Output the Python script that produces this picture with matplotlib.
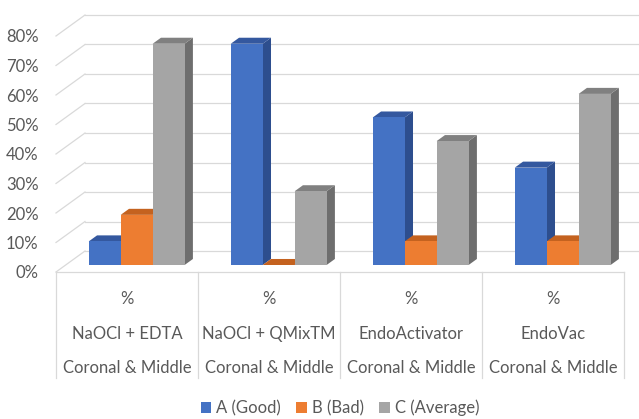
import matplotlib
matplotlib.use("Agg")
import matplotlib.pyplot as plt
from matplotlib.patches import Polygon
from matplotlib.ticker import FuncFormatter

categories = ["%\nNaOCl + EDTA\nCoronal & Middle",
              "%\nNaOCl + QMixTM\nCoronal & Middle",
              "%\nEndoActivator\nCoronal & Middle",
              "%\nEndoVac\nCoronal & Middle"]
series_names = ["A (Good)", "B (Bad)", "C (Average)"]
good = [8, 75, 50, 33]
bad = [17, 0, 8, 8]
average = [75, 25, 42, 58]
yticks = [0, 10, 20, 30, 40, 50, 60, 70, 80]

front_cols = ["#4472C4", "#ED7D31", "#A5A5A5"]
side_cols = ["#2D4E8E", "#B5581C", "#6E6E6E"]
top_cols = ["#34589F", "#C4621F", "#808080"]
txt = "#595959"
grid = "#D9D9D9"

plt.rcParams['font.family'] = ['Lato', 'DejaVu Sans']

W, H = 639, 419
fig = plt.figure(figsize=(W / 100, H / 100), dpi=100)
# front plane: x 56..624 px, y 0% at 272 px, 80% at 36 px (from top)
ax = fig.add_axes([56 / W, (H - 272) / H, 568 / W, 236 / H])
ax.set_xlim(0, 4)
ax.set_ylim(0, 80)
ax.patch.set_visible(False)
for s in ax.spines.values():
    s.set_visible(False)

# depth vector of the floor (data units)
DX = 29 / 142.0
DY = 21 / 2.95

# back wall + side wall gridlines
for v in yticks:
    ax.plot([DX, 4 + DX + 0.2], [v + DY, v + DY], color=grid, lw=0.9, clip_on=False, zorder=0)
    ax.plot([0, DX], [v, v + DY], color=grid, lw=0.9, clip_on=False, zorder=0)
# floor front edge
ax.plot([0, 4], [0, 0], color=grid, lw=0.9, clip_on=False, zorder=0)
# table vertical lines
for i in range(5):
    ax.plot([i, i], [0, -106 / 2.95], color=grid, lw=0.9, clip_on=False, zorder=0)

# bars
w = 0.225
d1, d2 = 1 / 3, 0.62
ox, oy = d1 * DX, d1 * DY
ddx, ddy = (d2 - d1) * DX, (d2 - d1) * DY
data = [good, bad, average]
z = 2
for i in range(len(categories)):
    for j, vals in enumerate(data):
        v = vals[i]
        xl = i + 0.5 + (j - 1.5) * w + ox
        xr = xl + w
        b = oy
        side = Polygon([(xr, b), (xr, b + v), (xr + ddx, b + v + ddy), (xr + ddx, b + ddy)],
                       closed=True, facecolor=side_cols[j], edgecolor='none', zorder=z, clip_on=False)
        top = Polygon([(xl, b + v), (xr, b + v), (xr + ddx, b + v + ddy), (xl + ddx, b + v + ddy)],
                      closed=True, facecolor=top_cols[j], edgecolor='none', zorder=z, clip_on=False)
        ax.add_patch(side)
        ax.add_patch(top)
        ax.bar([xl], [v], width=w, bottom=b, align='edge', color=front_cols[j],
               zorder=z + 0.5, clip_on=False, label=series_names[j] if i == 0 else None)
        z += 1

FS = 12
ax.set_yticks(yticks)
ax.yaxis.set_major_formatter(FuncFormatter(lambda v, p: f"{int(v)}%"))
ax.tick_params(axis='y', length=0, pad=12.5, labelsize=FS, labelcolor=txt)
ax.set_xticks([0.5, 1.5, 2.5, 3.5])
ax.set_xticklabels(categories)
ax.tick_params(axis='x', length=0, pad=14, labelsize=FS, labelcolor=txt)
for lbl in ax.get_xticklabels():
    lbl.set_linespacing(2.4)

fig.legend(loc='center', bbox_to_anchor=(340 / W, 1 - 408 / H), ncol=3, frameon=False,
           fontsize=FS, labelcolor=txt, handlelength=0.65, handleheight=0.65,
           handletextpad=0.3, columnspacing=0.9)

fig.savefig("out.png", dpi=100)
